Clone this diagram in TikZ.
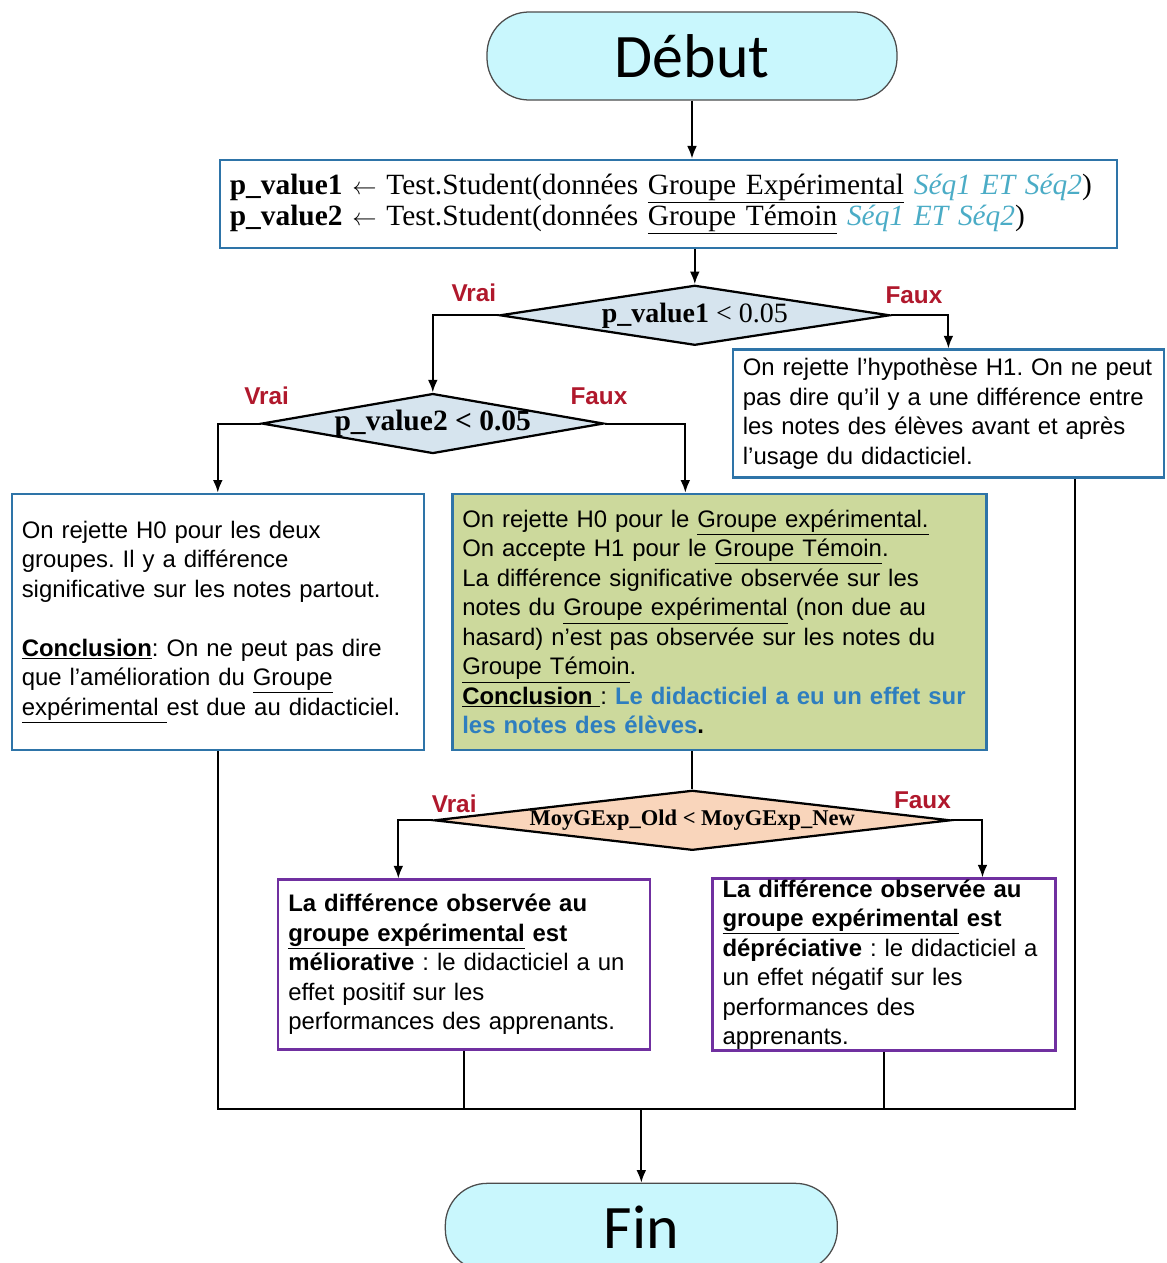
\documentclass[tikz,border=0pt]{standalone}
\usepackage{fontspec}
\setmainfont{Liberation Sans}
\newfontfamily\codefont{Liberation Serif}
\newfontfamily\termfont{Carlito}
\usetikzlibrary{arrows.meta, positioning, shapes.geometric, calc}
\definecolor{termfill}{HTML}{C9F7FD}
\definecolor{boxline}{HTML}{2E74A8}
\definecolor{testfill}{HTML}{D6E4EE}
\definecolor{effill}{HTML}{CCD99C}
\definecolor{peach}{HTML}{F9D5BB}
\definecolor{choiceline}{HTML}{7030A0}
\definecolor{verdict}{HTML}{B0182C}
\definecolor{seqblue}{HTML}{4BACC6}
\definecolor{conclblue}{HTML}{2E7EBF}
\newcommand{\boxfont}{\fontsize{17}{21}\selectfont}
\newcommand{\assignarrow}{{\fontsize{18}{18}\selectfont$\leftarrow$}}
\tikzset{
    terminal/.style={
        rectangle, rounded corners=1.05cm,
        draw=black!70, fill=termfill, line width=0.9pt,
        minimum width=10.25cm, minimum height=2.2cm,
        font=\termfont\fontsize{44}{48}\selectfont
    },
    process/.style={
        rectangle, draw=boxline, line width=1.8pt,
        minimum height=2.2cm, inner xsep=0.25cm,
        text width=21.925cm, align=left,
        font=\codefont\fontsize{20.9}{22}\selectfont
    },
    decision/.style={
        diamond, draw=black, line width=1.6pt, fill=testfill,
        inner sep=0pt, minimum height=1.5cm
    },
    result/.style={
        rectangle, draw=boxline, line width=1.8pt, fill=white,
        inner xsep=0.25cm, align=left, font=\boxfont
    },
    choice/.style={
        rectangle, draw=choiceline, line width=1.6pt, fill=white,
        inner xsep=0.25cm, align=left, font=\boxfont
    },
    cond/.style={font=\bfseries\fontsize{17.3}{20}\selectfont, text=verdict},
    arr/.style={-{Latex[length=9pt, width=7pt]}, line width=1.4pt},
    line/.style={line width=1.4pt}
}

\begin{document}
\frenchspacing
\begin{tikzpicture}

    \useasboundingbox (-17.3,1.4) rectangle (11.85,-30.175);

    % --- Start and computation ---
    \node[terminal] (debut) {Début};
    \node[process, below=1.45cm of debut, xshift=-0.59cm] (calc) {%
        \textbf{p\_value1} \assignarrow\ Test.Student(données \underline{Groupe Expérimental} \textcolor{seqblue}{\textit{Séq1 ET Séq2}})\\
        \textbf{p\_value2} \assignarrow\ Test.Student(données \underline{Groupe Témoin} \textcolor{seqblue}{\textit{Séq1 ET Séq2}})};

    % --- First test ---
    \node[decision, minimum width=9.75cm, below=0.875cm of calc, xshift=0.66cm,
        label={[font=\codefont\fontsize{19.9}{22}\selectfont]center:\textbf{p\_value1} < 0.05}] (test1) {};
    \node[result, text width=10.275cm, minimum height=3.2cm,
        below=0.05cm of test1, xshift=6.34cm] (rejH1) {%
        On rejette l’hypothèse H1. On ne peut\\
        pas dire qu’il y a une différence entre\\
        les notes des élèves avant et après\\
        l’usage du didacticiel.};

    % --- Second test ---
    \node[decision, minimum width=8.55cm, below=1.15cm of test1, xshift=-6.55cm,
        label={[font=\codefont\bfseries\fontsize{21}{22}\selectfont]center:p\_value2 < 0.05}] (test2) {};
    \node[result, text width=9.8cm, minimum height=6.4cm,
        below=0.95cm of test2, xshift=-5.375cm] (bothbox) {%
        On rejette H0 pour les deux\\
        groupes. Il y a différence\\
        significative sur les notes partout.\\[21pt]
        \underline{\textbf{Conclusion}}: On ne peut pas dire\\
        que l’amélioration du \underline{Groupe}\\
        \underline{expérimental }est due au didacticiel.};
    \node[result, fill=effill, text width=12.85cm, minimum height=6.4cm,
        right=0.65cm of bothbox] (effbox) {%
        On rejette H0 pour le \underline{Groupe expérimental.}\\
        On accepte H1 pour le \underline{Groupe Témoin}.\\
        La différence significative observée sur les\\
        notes du \underline{Groupe expérimental} (non due au\\
        hasard) n’est pas observée sur les notes du\\
        \underline{Groupe Témoin}.\\
        \underline{\textbf{Conclusion }}: \textcolor{conclblue}{\textbf{Le didacticiel a eu un effet sur}}\\
        \textcolor{conclblue}{\textbf{les notes des élèves}}\textbf{.}};

    % --- Third test ---
    \node[decision, fill=peach, minimum width=12.9cm, below=0.95cm of effbox, xshift=-0.675cm,
        label={[font=\codefont\bfseries\fontsize{16}{18}\selectfont]center:MoyGExp\_Old < MoyGExp\_New}] (test3) {};
    \node[choice, text width=8.8cm, minimum height=4.25cm,
        below=0.675cm of test3, xshift=-5.7cm] (melio) {%
        \textbf{La différence observée au}\\
        \textbf{\underline{groupe expérimental} est}\\
        \textbf{méliorative} : le didacticiel a un\\
        effet positif sur les\\
        performances des apprenants.};
    \node[choice, text width=8.075cm, inner ysep=0pt, minimum height=4.3cm,
        right=1.5cm of melio] (deprec) {%
        \textbf{La différence observée au}\\
        \textbf{\underline{groupe expérimental} est}\\
        \textbf{dépréciative} : le didacticiel a\\
        un effet négatif sur les\\
        performances des\\
        apprenants.};

    % --- End ---
    \coordinate[below=1.45cm of melio] (join);
    \node[terminal, minimum width=9.8cm, below=1.85cm of join, xshift=4.425cm] (fin) {Fin};

    % --- Branch labels ---
    \node[cond] (v1) at ($(test1.west)+(-0.62,0.55)$) {Vrai};
    \node[cond] (f1) at ($(test1.east)+(0.575,0.5)$) {Faux};
    \node[cond] (v2) at ($(test2.west)+(0.15,0.7)$) {Vrai};
    \node[cond] (f2) at ($(test2.east)+(-0.15,0.675)$) {Faux};
    \node[cond] (v3) at ($(test3.west)+(0.525,0.425)$) {Vrai};
    \node[cond] (f3) at ($(test3.east)+(-0.725,0.5)$) {Faux};

    % --- Arrow end points off centre ---
    \coordinate (effin) at ($(effbox.north)+(-0.85,0)$);
    \coordinate (melin) at ($(melio.north)+(-1.65,0)$);
    \coordinate (depin) at ($(deprec.north)+(2.46,0)$);
    \coordinate (h1out) at ($(rejH1.south)+(3.16,0)$);

    % --- Arrows ---
    \draw[arr] (debut) -- (debut |- calc.north);
    \draw[arr] (calc.south -| test1) -- (test1);
    \draw[arr] (test1.west) -| (test2);
    \draw[arr] (test1.east) -| (rejH1);
    \draw[arr] (test2.west) -| (bothbox);
    \draw[arr] (test2.east) -| (effin);
    \draw[line] (effbox.south -| test3) -- (test3);
    \draw[arr] (test3.west) -| (melin);
    \draw[arr] (test3.east) -| (depin);

    % --- Merge ---
    \draw[line] (bothbox.south) |- (h1out |- join) -- (h1out);
    \draw[line] (melio.south) -- (join);
    \draw[line] (deprec.south) -- (deprec.south |- join);
    \draw[arr] (fin.north |- join) -- (fin);

\end{tikzpicture}
\end{document}
